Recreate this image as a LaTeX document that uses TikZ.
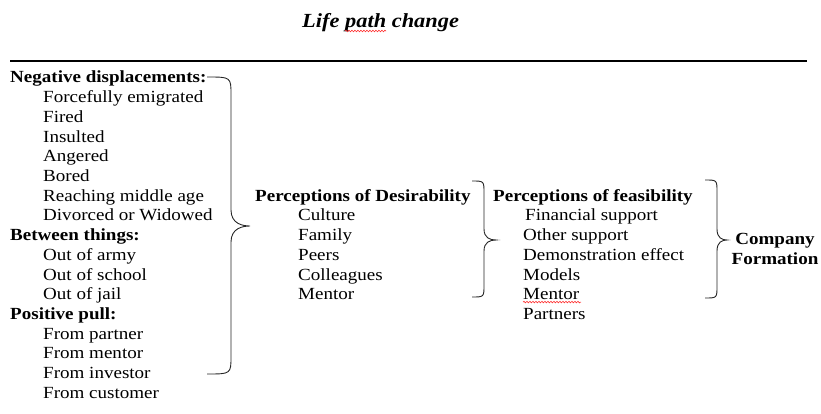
\documentclass[tikz,border=0pt]{standalone}
\usepackage{fontspec}
\setmainfont{Liberation Serif}[FakeStretch=1.12]
\usepackage{tikz}
\usetikzlibrary{positioning,decorations.pathmorphing}

\tikzset{
  head/.style={anchor=base west, font=\fontsize{17}{20}\selectfont\bfseries, inner sep=0pt},
  item/.style={anchor=base west, font=\fontsize{17}{20}\selectfont, inner sep=0pt},
  curly/.style={black!85, line width=0.9pt},
  typo/.style={red!80, line width=0.6pt, decorate,
    decoration={snake, segment length=3pt, amplitude=0.8pt}}
}

\begin{document}
\begin{tikzpicture}[x=1pt,y=-1pt]
  \useasboundingbox (0,0) rectangle (821,414);

  % title and rule
  \node[anchor=base west, inner sep=0pt, font=\fontsize{20}{24}\selectfont\bfseries\itshape]
    (title) at (302,28) {Life path change};
  \draw[typo] (345,31) -- (386,31);
  \coordinate (ruleL) at (10,61);
  \coordinate (ruleR) at (807,61);
  \draw[line width=1.6pt] (ruleL) -- (ruleR);

  % life path events (baselines every 19.7)
  \node[head] (neg)      at (10,83.0)  {Negative displacements:};
  \node[item] (forced)   at (43,102.7) {Forcefully emigrated};
  \node[item] (fired)    at (43,122.4) {Fired};
  \node[item] (insulted) at (43,142.1) {Insulted};
  \node[item] (angered)  at (43,161.8) {Angered};
  \node[item] (bored)    at (43,181.5) {Bored};
  \node[item] (midage)   at (43,201.2) {Reaching middle age};
  \node[item] (divorced) at (43,220.9) {Divorced or Widowed};
  \node[head] (between)  at (10,240.6) {Between things:};
  \node[item] (army)     at (43,260.3) {Out of army};
  \node[item] (school)   at (43,280.0) {Out of school};
  \node[item] (jail)     at (43,299.7) {Out of jail};
  \node[head] (pull)     at (10,319.4) {Positive pull:};
  \node[item] (partner)  at (43,339.1) {From partner};
  \node[item] (mentorA)  at (43,358.8) {From mentor};
  \node[item] (investor) at (43,378.5) {From investor};
  \node[item] (customer) at (43,398.2) {From customer};

  % desirability
  \node[head] (desir)      at (255,201.2) {Perceptions of Desirability};
  \node[item] (culture)    at (298,220.9) {Culture};
  \node[item] (family)     at (298,240.6) {Family};
  \node[item] (peers)      at (298,260.3) {Peers};
  \node[item] (colleagues) at (298,280.0) {Colleagues};
  \node[item] (mentorB)    at (298,299.7) {Mentor};

  % feasibility
  \node[head] (feas)     at (493,201.2) {Perceptions of feasibility};
  \node[item] (finance)  at (525,220.9) {Financial support};
  \node[item] (othersup) at (523,240.6) {Other support};
  \node[item] (demo)     at (523,260.3) {Demonstration effect};
  \node[item] (models)   at (523,280.0) {Models};
  \node[item] (mentorC)  at (523,299.7) {Mentor};
  \node[item] (partners) at (523,319.4) {Partners};
  \draw[typo] (mentorC.south west) ++(0,2) -- ++(58,0);

  % outcome
  \node[font=\fontsize{17}{19.7}\selectfont\bfseries, align=center, inner sep=0pt]
    (company) at (775,249) {Company\\Formation};

  % braces
  \draw[curly] (207,77) .. controls (231,77) .. (231,95) -- (231,210)
    .. controls (231,224) and (243,226) .. (250,226)
    .. controls (243,226) and (231,228) .. (231,242) -- (231,356)
    .. controls (231,374) .. (207,374);
  \draw[curly] (472,181) .. controls (484,181) .. (484,193) -- (484,229)
    .. controls (484,238) and (490,240) .. (496,240)
    .. controls (490,240) and (484,242) .. (484,251) -- (484,285)
    .. controls (484,297) .. (472,297);
  \draw[curly] (705,180) .. controls (717,180) .. (717,192) -- (717,229)
    .. controls (717,238) and (722,240) .. (727,240)
    .. controls (722,240) and (717,242) .. (717,251) -- (717,286)
    .. controls (717,298) .. (705,298);
\end{tikzpicture}
\end{document}
